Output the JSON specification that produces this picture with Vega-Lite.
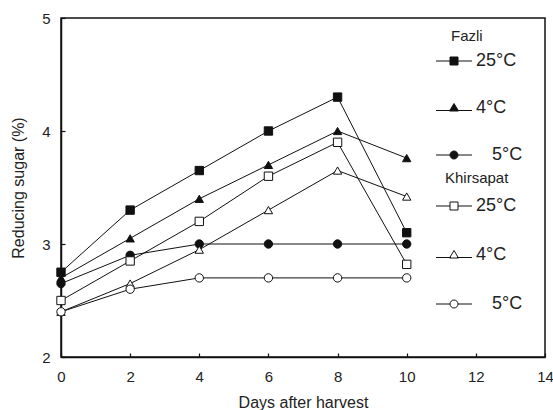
{
  "$schema": "https://vega.github.io/schema/vega-lite/v6.json",
  "autosize": "none",
  "width": 484,
  "height": 339,
  "padding": {"left": 61, "top": 18, "right": 8, "bottom": 53},
  "background": "white",
  "config": {
    "font": "Liberation Sans",
    "view": {"stroke": "#111", "strokeWidth": 1.5},
    "axis": {
      "domainColor": "#111", "domainWidth": 1.5, "tickColor": "#111", "tickWidth": 1.2,
      "grid": false, "labelFlush": false, "labelFont": "Liberation Sans", "labelFontSize": 15, "labelColor": "#222",
      "titleFont": "Liberation Sans", "titleFontSize": 16, "titleFontWeight": "normal", "titleColor": "#222"
    },
    "legend": {
      "titleFont": "Liberation Sans", "titleFontSize": 15, "titleFontWeight": "normal", "titleColor": "#222",
      "labelFont": "Liberation Sans", "labelFontSize": 18, "labelColor": "#222"
    }
  },
  "data": {
    "values": [
      {"cultivar": "Fazli", "temp": "25°C", "day": 0, "sugar": 2.75},
      {"cultivar": "Fazli", "temp": "25°C", "day": 2, "sugar": 3.3},
      {"cultivar": "Fazli", "temp": "25°C", "day": 4, "sugar": 3.65},
      {"cultivar": "Fazli", "temp": "25°C", "day": 6, "sugar": 4.0},
      {"cultivar": "Fazli", "temp": "25°C", "day": 8, "sugar": 4.3},
      {"cultivar": "Fazli", "temp": "25°C", "day": 10, "sugar": 3.1},
      {"cultivar": "Fazli", "temp": "4°C", "day": 0, "sugar": 2.7},
      {"cultivar": "Fazli", "temp": "4°C", "day": 2, "sugar": 3.05},
      {"cultivar": "Fazli", "temp": "4°C", "day": 4, "sugar": 3.4},
      {"cultivar": "Fazli", "temp": "4°C", "day": 6, "sugar": 3.7},
      {"cultivar": "Fazli", "temp": "4°C", "day": 8, "sugar": 4.0},
      {"cultivar": "Fazli", "temp": "4°C", "day": 10, "sugar": 3.76},
      {"cultivar": "Fazli", "temp": "5°C", "day": 0, "sugar": 2.65},
      {"cultivar": "Fazli", "temp": "5°C", "day": 2, "sugar": 2.9},
      {"cultivar": "Fazli", "temp": "5°C", "day": 4, "sugar": 3.0},
      {"cultivar": "Fazli", "temp": "5°C", "day": 6, "sugar": 3.0},
      {"cultivar": "Fazli", "temp": "5°C", "day": 8, "sugar": 3.0},
      {"cultivar": "Fazli", "temp": "5°C", "day": 10, "sugar": 3.0},
      {"cultivar": "Khirsapat", "temp": "25°C", "day": 0, "sugar": 2.5},
      {"cultivar": "Khirsapat", "temp": "25°C", "day": 2, "sugar": 2.85},
      {"cultivar": "Khirsapat", "temp": "25°C", "day": 4, "sugar": 3.2},
      {"cultivar": "Khirsapat", "temp": "25°C", "day": 6, "sugar": 3.6},
      {"cultivar": "Khirsapat", "temp": "25°C", "day": 8, "sugar": 3.9},
      {"cultivar": "Khirsapat", "temp": "25°C", "day": 10, "sugar": 2.82},
      {"cultivar": "Khirsapat", "temp": "4°C", "day": 0, "sugar": 2.4},
      {"cultivar": "Khirsapat", "temp": "4°C", "day": 2, "sugar": 2.65},
      {"cultivar": "Khirsapat", "temp": "4°C", "day": 4, "sugar": 2.95},
      {"cultivar": "Khirsapat", "temp": "4°C", "day": 6, "sugar": 3.3},
      {"cultivar": "Khirsapat", "temp": "4°C", "day": 8, "sugar": 3.65},
      {"cultivar": "Khirsapat", "temp": "4°C", "day": 10, "sugar": 3.42},
      {"cultivar": "Khirsapat", "temp": "5°C", "day": 0, "sugar": 2.4},
      {"cultivar": "Khirsapat", "temp": "5°C", "day": 2, "sugar": 2.6},
      {"cultivar": "Khirsapat", "temp": "5°C", "day": 4, "sugar": 2.7},
      {"cultivar": "Khirsapat", "temp": "5°C", "day": 6, "sugar": 2.7},
      {"cultivar": "Khirsapat", "temp": "5°C", "day": 8, "sugar": 2.7},
      {"cultivar": "Khirsapat", "temp": "5°C", "day": 10, "sugar": 2.7}
    ]
  },
  "encoding": {
    "x": {
      "field": "day", "type": "quantitative",
      "scale": {"domain": [0, 14], "nice": false, "zero": false},
      "axis": {"title": "Days after harvest", "values": [0, 2, 4, 6, 8, 10, 12, 14], "tickSize": -4, "labelPadding": 16, "titlePadding": 10}
    },
    "y": {
      "field": "sugar", "type": "quantitative",
      "scale": {"domain": [2, 5], "nice": false, "zero": false},
      "axis": {"title": "Reducing sugar (%)", "values": [2, 3, 4, 5], "tickSize": -4, "labelPadding": 15, "titlePadding": 15}
    }
  },
  "layer": [
    {
      "mark": {"type": "line", "color": "#111", "strokeWidth": 1},
      "encoding": {"detail": [{"field": "cultivar"}, {"field": "temp"}]}
    },
    {
      "transform": [{"filter": "datum.cultivar === 'Fazli'"}],
      "mark": {"type": "point", "filled": true, "fill": "#111", "stroke": "#111", "strokeWidth": 1, "size": 70, "opacity": 1},
      "encoding": {
        "shape": {
          "field": "temp", "type": "nominal",
          "scale": {"domain": ["25°C", "4°C", "5°C"], "range": ["square", "triangle-up", "circle"]},
          "legend": null
        }
      }
    },
    {
      "transform": [{"filter": "datum.cultivar === 'Khirsapat'"}],
      "mark": {"type": "point", "filled": true, "fill": "white", "stroke": "#111", "strokeWidth": 1, "size": 70, "opacity": 1},
      "encoding": {
        "shape": {
          "field": "temp", "type": "nominal",
          "scale": {"domain": ["25°C", "4°C", "5°C"], "range": ["square", "triangle-up", "circle"]},
          "legend": null
        }
      }
    },
    {
      "transform": [{"filter": "datum.cultivar === 'Fazli'"}],
      "mark": {"type": "point", "filled": true, "fill": "#111", "strokeWidth": 0, "size": 0},
      "encoding": {
        "opacity": {
          "field": "temp", "type": "nominal",
          "scale": {"domain": ["25°C", "4°C", "5°C"], "range": [1, 1, 1]},
          "legend": {
            "title": "Fazli", "orient": "none", "legendX": 384, "legendY": 11, "padding": 0,
            "symbolSize": 100, "labelOffset": 13, "rowPadding": 29, "titlePadding": 8,
            "encoding": {
              "title": {"dx": {"value": 6}},
              "labels": {"dx": {"value": {"expr": "datum.value === '5°C' ? 16 : 0"}}},
              "symbols": {
                "size": {"value": 100},
                "fill": {"value": "#111"}, "stroke": {"value": "#111"}, "strokeWidth": {"value": 1},
                "shape": {"value": {"expr": "datum.value === '25°C' ? 'M-3.6,0H3.6M-0.8,-0.8H0.8V0.8H-0.8Z' : datum.value === '4°C' ? 'M-3.6,0.5H3.6M0,-0.9L0.9,0.6L-0.9,0.6Z' : 'M-3.6,0H3.6M0.8,0A0.8,0.8,0,1,1,-0.8,0A0.8,0.8,0,1,1,0.8,0Z'"}}
              }
            }
          }
        }
      }
    },
    {
      "transform": [{"filter": "datum.cultivar === 'Khirsapat'"}],
      "mark": {"type": "point", "filled": true, "fill": "white", "strokeWidth": 0, "size": 0},
      "encoding": {
        "opacity": {
          "field": "temp", "type": "nominal",
          "scale": {"domain": ["25°C", "4°C", "5°C"], "range": [1, 1, 1]},
          "legend": {
            "title": "Khirsapat", "orient": "none", "legendX": 384, "legendY": 153, "padding": 0,
            "symbolSize": 100, "labelOffset": 13, "rowPadding": 31, "titlePadding": 11,
            "encoding": {
              "labels": {"dx": {"value": {"expr": "datum.value === '5°C' ? 16 : 0"}}},
              "symbols": {
                "size": {"value": 100},
                "fill": {"value": "white"}, "stroke": {"value": "#111"}, "strokeWidth": {"value": 1},
                "shape": {"value": {"expr": "datum.value === '25°C' ? 'M-3.6,0H-0.8M0.8,0H3.6M-0.8,-0.8H0.8V0.8H-0.8Z' : datum.value === '4°C' ? 'M-3.6,0.5H-0.6M0.6,0.5H3.6M0,-0.9L0.9,0.6L-0.9,0.6Z' : 'M-3.6,0H-0.8M0.8,0H3.6M0.8,0A0.8,0.8,0,1,1,-0.8,0A0.8,0.8,0,1,1,0.8,0Z'"}}
              }
            }
          }
        }
      }
    }
  ],
  "resolve": {"scale": {"shape": "independent", "opacity": "independent"}, "legend": {"shape": "independent", "opacity": "independent"}}
}
